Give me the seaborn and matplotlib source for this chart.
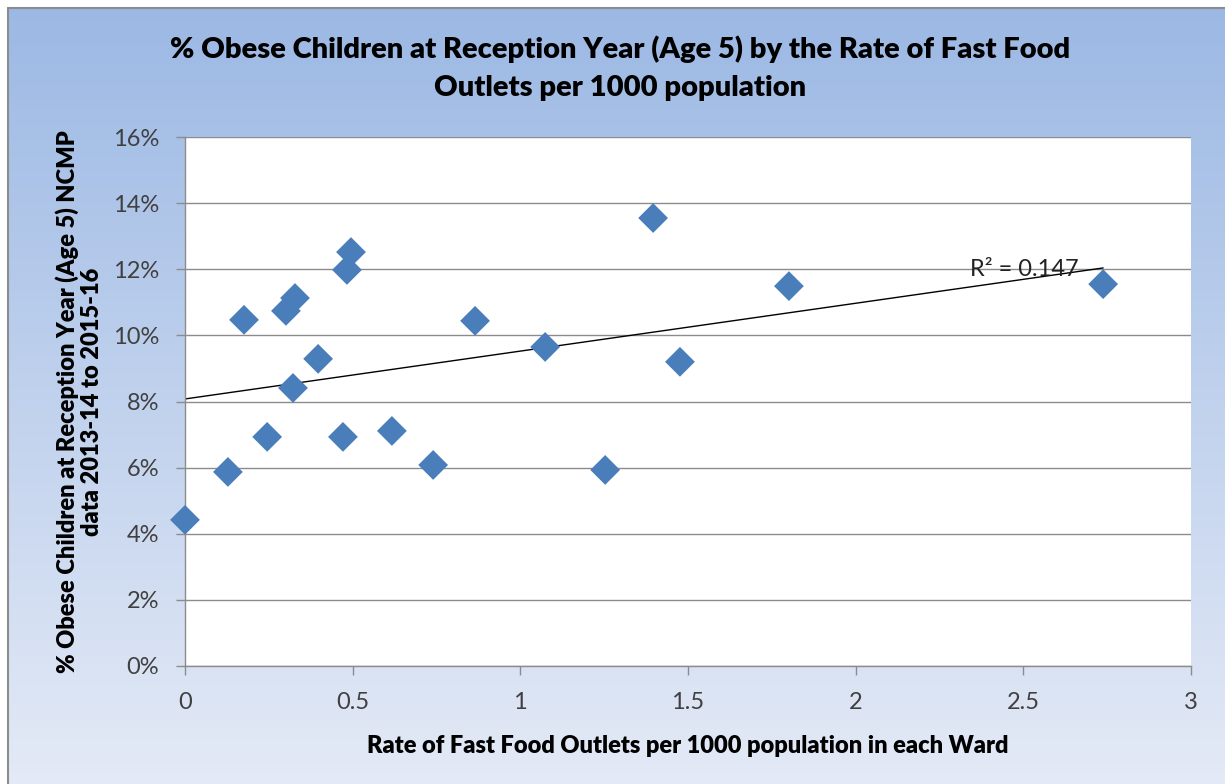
import numpy as np
import matplotlib.pyplot as plt
import seaborn as sns
import pandas as pd

# Fast food outlet rate per 1000 population vs % obese children (reception)
outlet_rate = [0.0, 0.128, 0.176, 0.245, 0.301, 0.328, 0.322, 0.397, 0.471, 0.483,
               0.495, 0.617, 0.740, 0.865, 1.074, 1.253, 1.396, 1.476, 1.801, 2.738]
obese_pct = [4.42, 5.87, 10.47, 6.93, 10.74, 11.13, 8.41, 9.29, 6.93, 11.98,
             12.52, 7.11, 6.08, 10.44, 9.65, 5.93, 13.55, 9.20, 11.49, 11.55]
x_ticks = [0, 0.5, 1, 1.5, 2, 2.5, 3]
y_ticks = [0, 2, 4, 6, 8, 10, 12, 14, 16]

df = pd.DataFrame({"rate": outlet_rate, "obese": obese_pct})

sns.set_theme(style="white")
plt.rcParams['font.family'] = ['Lato', 'DejaVu Sans']

fig = plt.figure(figsize=(12.25, 7.84), dpi=100)

# gradient background for the chart area
bg = fig.add_axes([0, 0, 1, 1], zorder=-10)
grad = np.linspace(0, 1, 256).reshape(-1, 1)
top_col = np.array([0.608, 0.722, 0.894])
bot_col = np.array([0.894, 0.918, 0.965])
img = top_col + (bot_col - top_col) * grad
bg.imshow(img[:, None, :].repeat(2, axis=1), aspect='auto',
          extent=[0, 1, 0, 1], origin='upper')
bg.add_patch(plt.Rectangle((0, 1 - 7 / 784), 1, 7 / 784, color='white', zorder=2))
bg.add_patch(plt.Rectangle((0, 0), 7 / 1225, 1, color='white', zorder=2))
bg.plot([7.5 / 1225, 7.5 / 1225], [0, 1 - 7.5 / 784], color='#8c8c8c', lw=1.5, zorder=3)
bg.plot([7.5 / 1225, 1], [1 - 7.5 / 784, 1 - 7.5 / 784], color='#8c8c8c', lw=1.5, zorder=3)
bg.set_xlim(0, 1)
bg.set_ylim(0, 1)
bg.axis('off')

ax = fig.add_axes([185 / 1225, 1 - 666 / 784, (1191 - 185) / 1225, (666 - 137) / 784])
ax.set_facecolor('white')

sns.scatterplot(data=df, x="rate", y="obese", marker='D', s=230, color='#4A7EBB',
                edgecolor='none', ax=ax, zorder=3, legend=False, clip_on=False)

# linear trendline
m, c = np.polyfit(df["rate"], df["obese"], 1)
xs = np.array([0, df["rate"].max()])
ax.plot(xs, m * xs + c, color='black', lw=1, zorder=2)
ax.text(2.34, 12.0, "R² = 0.147", fontsize=17, va='center', ha='left',
        color='#222222', zorder=4)

ax.set_xlim(0, 3)
ax.set_ylim(0, 16)
ax.set_xticks(x_ticks)
ax.set_xticklabels([f"{t:g}" for t in x_ticks])
ax.set_yticks(y_ticks)
ax.set_yticklabels([f"{t}%" for t in y_ticks])
ax.yaxis.grid(True, color='#8c8c8c', lw=1)
ax.tick_params(axis='both', labelsize=17, colors='#8c8c8c', labelcolor='#404040',
               length=6.5, width=1, direction='out', bottom=True, left=True)
ax.tick_params(axis='x', pad=12)
ax.tick_params(axis='y', pad=12)
for side in ['top', 'right']:
    ax.spines[side].set_visible(False)
for side in ['left', 'bottom']:
    ax.spines[side].set_color('#8c8c8c')
    ax.spines[side].set_linewidth(1)

ax.set_xlabel("Rate of Fast Food Outlets per 1000 population in each Ward",
              fontsize=17, fontweight='heavy', labelpad=16, color='black')
ax.set_ylabel("% Obese Children at Reception Year (Age 5) NCMP\ndata 2013-14 to 2015-16",
              fontsize=17, fontweight='heavy', labelpad=7, linespacing=1.15, color='black')

fig.text(0.506, 1 - 68 / 784,
         "% Obese Children at Reception Year (Age 5) by the Rate of Fast Food\nOutlets per 1000 population",
         ha='center', va='center', fontsize=21, fontweight='heavy', linespacing=1.58,
         color='black')

fig.savefig("out.png", dpi=100)
